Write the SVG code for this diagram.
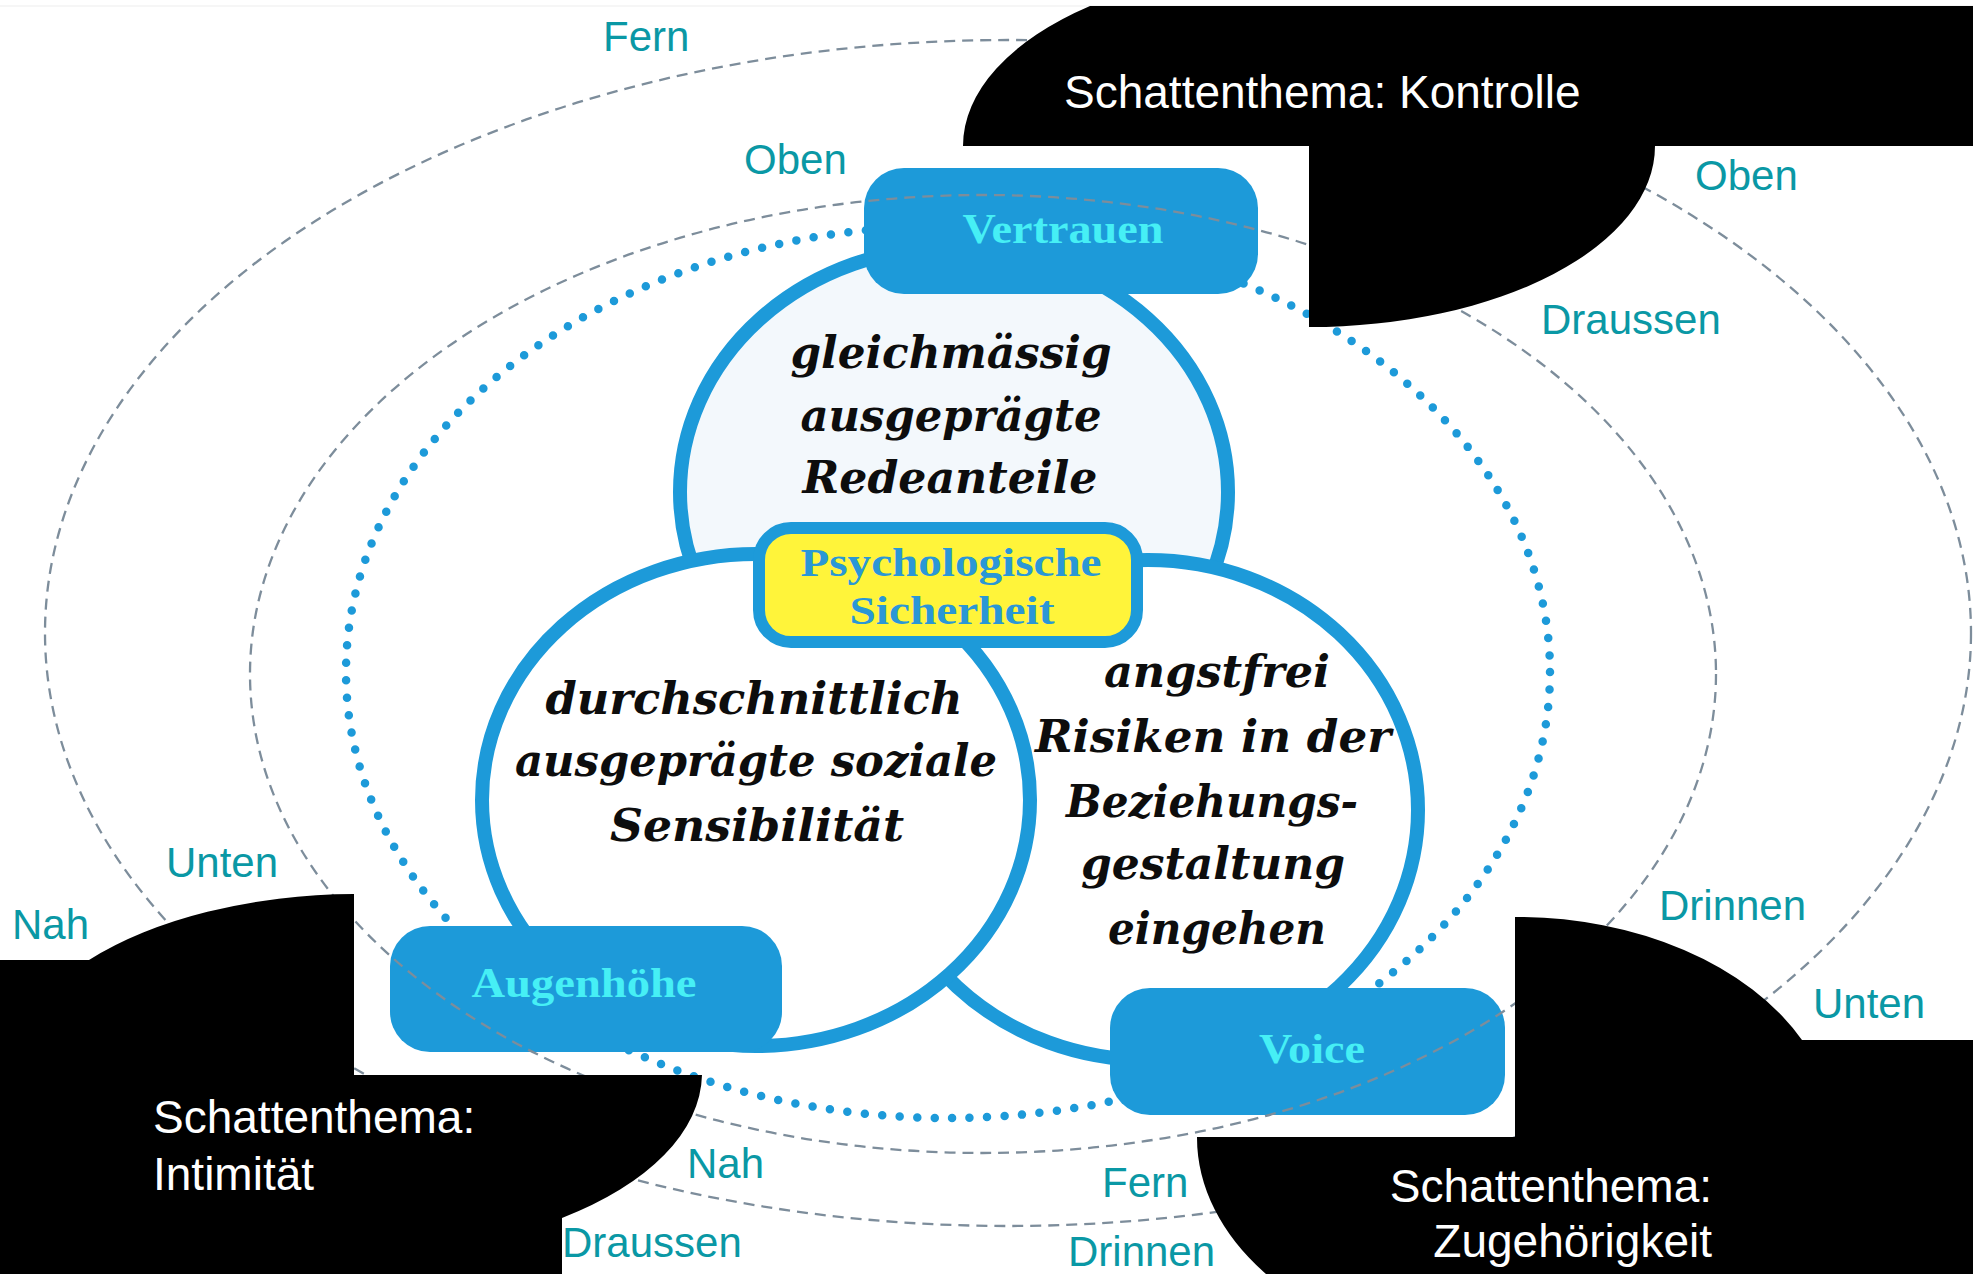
<svg xmlns="http://www.w3.org/2000/svg" width="1973" height="1274" viewBox="0 0 1973 1274">
  <style>
    .axis { fill: none; stroke: #7d8d9b; stroke-width: 2.3; stroke-dasharray: 11 7; }
    .ring { fill: none; stroke: #1d9ad9; stroke-width: 8.5; stroke-linecap: round; stroke-dasharray: 0 17.52; }
    .circle { stroke: #1d9ad9; stroke-width: 14; }
    .tag { fill: #1d9ad9; }
    .tagtext { font-family: "Liberation Serif", "Times New Roman", serif; font-weight: bold; font-size: 42px; fill: #46eff5; text-anchor: middle; }
    .body { font-family: "DejaVu Serif", "Liberation Serif", serif; font-weight: bold; font-style: italic; font-size: 45px; fill: #0d0d0d; text-anchor: middle; }
    .core { font-family: "Liberation Serif", "Times New Roman", serif; font-weight: bold; font-size: 41px; fill: #2a97d6; text-anchor: middle; }
    .shadow { fill: #000; }
    .shadowtext { font-family: "Liberation Sans", Arial, sans-serif; font-size: 46px; fill: #fff; }
    .pole { font-family: "Liberation Sans", Arial, sans-serif; font-size: 42px; fill: #0a98a5; }
  </style>

  <!-- faint page edge -->
  <line x1="0" y1="6" x2="1973" y2="6" stroke="#f3f3f3" stroke-width="1.5"/>

  <!-- central model: dotted frame, three circles, core badge and tags -->
  <g id="model">
    <ellipse class="ring" cx="948" cy="672" rx="602" ry="446"/>

    <g id="circle-vertrauen">
      <ellipse class="circle" cx="954" cy="492" rx="274" ry="245" fill="#f3f8fc"/>
      <text class="body" x="951" y="368" textLength="321" lengthAdjust="spacingAndGlyphs">gleichmässig</text>
      <text class="body" x="951" y="431" textLength="301" lengthAdjust="spacingAndGlyphs">ausgeprägte</text>
      <text class="body" x="950" y="493" textLength="295" lengthAdjust="spacingAndGlyphs">Redeanteile</text>
    </g>

    <g id="circle-voice">
      <ellipse class="circle" cx="1148" cy="810" rx="270" ry="250" fill="#fff"/>
      <text class="body" x="1217" y="687" textLength="226" lengthAdjust="spacingAndGlyphs">angstfrei</text>
      <text class="body" x="1213" y="752" textLength="356" lengthAdjust="spacingAndGlyphs">Risiken in der</text>
      <text class="body" x="1212" y="817" textLength="292" lengthAdjust="spacingAndGlyphs">Beziehungs-</text>
      <text class="body" x="1213" y="879" textLength="264" lengthAdjust="spacingAndGlyphs">gestaltung</text>
      <text class="body" x="1217" y="944" textLength="218" lengthAdjust="spacingAndGlyphs">eingehen</text>
    </g>

    <g id="circle-augenhoehe">
      <ellipse class="circle" cx="756" cy="800" rx="274" ry="246" fill="#fff"/>
      <text class="body" x="754" y="714" textLength="417" lengthAdjust="spacingAndGlyphs">durchschnittlich</text>
      <text class="body" x="756" y="776" textLength="482" lengthAdjust="spacingAndGlyphs">ausgeprägte soziale</text>
      <text class="body" x="757" y="841" textLength="294" lengthAdjust="spacingAndGlyphs">Sensibilität</text>
    </g>

    <g id="core">
      <rect x="759" y="528" width="378" height="114" rx="32" fill="#fff43a" stroke="#1d9ad9" stroke-width="12"/>
      <text class="core" x="951" y="576" textLength="301" lengthAdjust="spacingAndGlyphs">Psychologische</text>
      <text class="core" x="952" y="624" textLength="205" lengthAdjust="spacingAndGlyphs">Sicherheit</text>
    </g>

    <g id="tag-vertrauen">
      <rect class="tag" x="864" y="168" width="394" height="126" rx="40"/>
      <text class="tagtext" x="1063" y="243" textLength="201" lengthAdjust="spacingAndGlyphs">Vertrauen</text>
    </g>
    <g id="tag-augenhoehe">
      <rect class="tag" x="390" y="926" width="392" height="126" rx="40"/>
      <text class="tagtext" x="584" y="997" textLength="225" lengthAdjust="spacingAndGlyphs">Augenhöhe</text>
    </g>
    <g id="tag-voice">
      <rect class="tag" x="1110" y="988" width="395" height="127" rx="40"/>
      <text class="tagtext" x="1312" y="1063" textLength="106" lengthAdjust="spacingAndGlyphs">Voice</text>
    </g>
  </g>

  <!-- dashed orbits of the three dimensions -->
  <g id="connectors">
    <ellipse class="axis" cx="1008" cy="633" rx="963" ry="593"/>
    <ellipse class="axis" cx="983" cy="674" rx="733" ry="479"/>
  </g>

  <!-- shadow themes -->
  <g id="shadow-kontrolle">
    <path class="shadow" d="M1090,6 H1973 V146 H1655 A346,181 0 0 1 1309,327 V146 H963 A346,181 0 0 1 1090,6 Z"/>
    <text class="shadowtext" x="1064" y="108">Schattenthema: Kontrolle</text>
  </g>
  <g id="shadow-intimitaet">
    <path class="shadow" d="M0,960 H89 A348,181 0 0 1 354,894 V1075 H702 A348,181 0 0 1 562,1218 V1274 H0 Z"/>
    <text class="shadowtext" x="153" y="1133">Schattenthema:</text>
    <text class="shadowtext" x="153" y="1190">Intimität</text>
  </g>
  <g id="shadow-zugehoerigkeit">
    <path class="shadow" d="M1515,917 A318,220 0 0 1 1802,1040 H1973 V1274 H1266 A318,220 0 0 1 1197,1137 H1515 Z"/>
    <text class="shadowtext" x="1712" y="1202" text-anchor="end">Schattenthema:</text>
    <text class="shadowtext" x="1712" y="1257" text-anchor="end">Zugehörigkeit</text>
  </g>

  <!-- pole labels -->
  <g id="poles">
    <text class="pole" x="603" y="51">Fern</text>
    <text class="pole" x="744" y="174">Oben</text>
    <text class="pole" x="1695" y="190">Oben</text>
    <text class="pole" x="1541" y="334">Draussen</text>
    <text class="pole" x="1659" y="920">Drinnen</text>
    <text class="pole" x="1813" y="1018">Unten</text>
    <text class="pole" x="166" y="877">Unten</text>
    <text class="pole" x="12" y="939">Nah</text>
    <text class="pole" x="687" y="1178">Nah</text>
    <text class="pole" x="1102" y="1197">Fern</text>
    <text class="pole" x="562" y="1257">Draussen</text>
    <text class="pole" x="1068" y="1266">Drinnen</text>
  </g>
</svg>
